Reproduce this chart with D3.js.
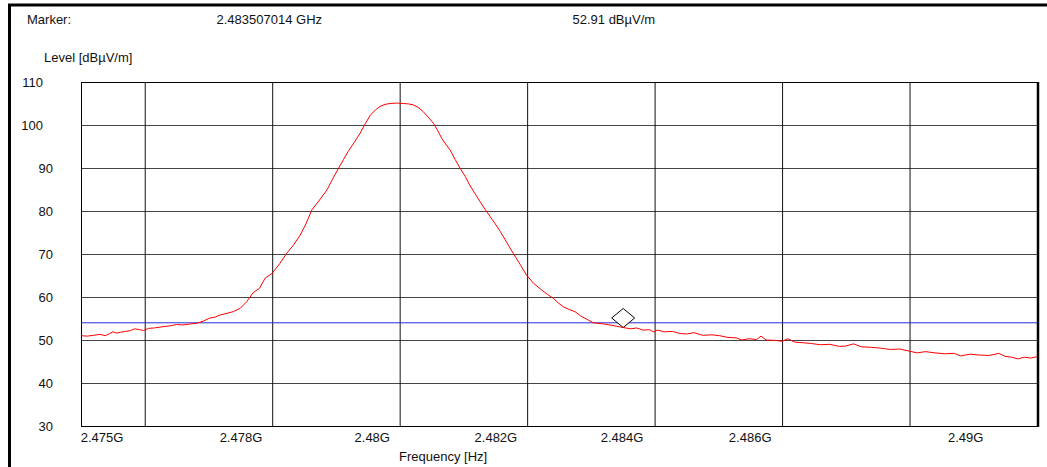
<!DOCTYPE html>
<html>
<head>
<meta charset="utf-8">
<script src="https://cdn.jsdelivr.net/npm/d3@7"></script>
<style>
    html, body { margin: 0; padding: 0; background: #fff; }
    svg { display: block; font-family: "Liberation Sans", Arial, sans-serif; }
</style>
</head>
<body>
<div id="chart"></div>
<script>
// Measured trace (frequency in GHz, level in dBuV/m)
const freqGHz = [
    2.47500, 2.47510, 2.47520, 2.47530, 2.47538, 2.47545, 2.47550, 2.47556, 2.47562, 2.47570,
    2.47578, 2.47584, 2.47592, 2.47598, 2.47606, 2.47615, 2.47629, 2.47640, 2.47650, 2.47660,
    2.47670, 2.47682, 2.47692, 2.47702, 2.47710, 2.47718, 2.47729, 2.47739, 2.47750, 2.47760,
    2.47770, 2.47780, 2.47789, 2.47800, 2.47812, 2.47823, 2.47833, 2.47844, 2.47853, 2.47862,
    2.47874, 2.47886, 2.47895, 2.47904, 2.47912, 2.47919, 2.47929, 2.47938, 2.47946, 2.47954,
    2.47962, 2.47969, 2.47977, 2.47985, 2.47995, 2.48006, 2.48014, 2.48021, 2.48029, 2.48037,
    2.48045, 2.48053, 2.48059, 2.48066, 2.48072, 2.48079, 2.48087, 2.48095, 2.48103, 2.48110,
    2.48118, 2.48126, 2.48134, 2.48142, 2.48150, 2.48158, 2.48168, 2.48178, 2.48189, 2.48199,
    2.48210, 2.48223, 2.48232, 2.48241, 2.48249, 2.48257, 2.48266, 2.48275, 2.48284, 2.48294,
    2.48304, 2.48317, 2.48330, 2.48340, 2.48351, 2.48362, 2.48372, 2.48382, 2.48392, 2.48398,
    2.48405, 2.48415, 2.48428, 2.48440, 2.48450, 2.48462, 2.48475, 2.48490, 2.48502, 2.48515,
    2.48528, 2.48537, 2.48548, 2.48560, 2.48567, 2.48575, 2.48590, 2.48600, 2.48609, 2.48620,
    2.48630, 2.48645, 2.48660, 2.48675, 2.48690, 2.48700, 2.48712, 2.48725, 2.48740, 2.48755,
    2.48770, 2.48785, 2.48800, 2.48812, 2.48825, 2.48840, 2.48855, 2.48870, 2.48880, 2.48895,
    2.48910, 2.48925, 2.48940, 2.48950, 2.48960, 2.48970, 2.48980, 2.48990, 2.49000
];
const levelDb = [
    51.0, 50.9, 51.1, 51.3, 51.0, 51.5, 51.9, 51.6, 51.8, 52.0,
    52.2, 52.6, 52.4, 52.2, 52.7, 52.8, 53.1, 53.3, 53.6, 53.5,
    53.7, 53.9, 54.4, 55.1, 55.3, 55.8, 56.2, 56.6, 57.4, 58.9,
    61.0, 62.0, 64.4, 65.5, 67.8, 70.2, 72.0, 74.4, 77.0, 80.2,
    82.5, 84.9, 87.5, 89.9, 92.0, 93.8, 96.0, 98.1, 100.3, 102.3,
    103.5, 104.3, 104.8, 105.0, 105.1, 105.0, 104.9, 104.7, 104.1, 103.1,
    101.8, 100.4, 98.9, 96.9, 95.6, 94.2, 92.0, 89.9, 88.0, 86.0,
    84.1, 82.2, 80.4, 78.7, 77.0, 75.2, 72.7, 70.2, 67.6, 65.1,
    63.2, 61.6, 60.6, 59.7, 58.6, 57.7, 57.1, 56.6, 55.6, 54.8,
    54.0, 53.8, 53.5, 53.2, 52.9, 52.6, 52.8, 52.3, 52.4, 51.9,
    52.3, 51.9, 52.0, 51.5, 51.4, 51.7, 51.1, 51.2, 51.0, 50.6,
    50.5, 50.0, 50.3, 50.1, 50.9, 50.0, 49.9, 49.7, 50.3, 49.5,
    49.4, 49.2, 48.9, 49.0, 48.5, 48.6, 49.1, 48.4, 48.3, 48.1,
    47.8, 47.9, 47.4, 47.0, 47.3, 47.0, 46.8, 46.9, 46.3, 46.7,
    46.5, 46.4, 46.9, 46.2, 46.0, 45.6, 46.0, 45.8, 46.1
];

// Limit line and marker
const limitDb = 54;
const markerFreq = 2.483507014;
const markerLevel = 52.91;

// Axes
const xDomain = [2.475, 2.490];
const xGridFreq = [2.476, 2.478, 2.480, 2.482, 2.484, 2.486, 2.488];
const xTickLabels = ['2.475G', '2.478G', '2.48G', '2.482G', '2.484G', '2.486G', '2.49G'];
const xTickLabelFreq = [2.47533, 2.47751, 2.47957, 2.48151, 2.48349, 2.48550, 2.48888];
const yDomain = [30, 110];
const yTicks = [30, 40, 50, 60, 70, 80, 90, 100, 110];

function renderChart(containerId) {
    const W = 1047, H = 467;
    const plot = { left: 81, right: 1037, top: 82, bottom: 426 };

    const svg = d3.select(`#${containerId}`)
        .append('svg')
        .attr('width', W)
        .attr('height', H);

    svg.append('rect')
        .attr('width', W)
        .attr('height', H)
        .attr('fill', '#fff');

    // Outer frame (cropped on right and bottom)
    svg.append('line')
        .attr('x1', 9.5).attr('x2', 9.5)
        .attr('y1', 4).attr('y2', H)
        .attr('stroke', '#000').attr('stroke-width', 3);
    svg.append('line')
        .attr('x1', 8).attr('x2', W)
        .attr('y1', 5).attr('y2', 5)
        .attr('stroke', '#000').attr('stroke-width', 3);

    const xScale = d3.scaleLinear().domain(xDomain).range([plot.left, plot.right]);
    const yScale = d3.scaleLinear().domain(yDomain).range([plot.bottom, plot.top]);

    // Horizontal grid
    svg.append('g')
        .attr('transform', `translate(${plot.left}, 0)`)
        .call(d3.axisLeft(yScale)
            .tickValues(yTicks.slice(1, -1))
            .tickSize(-(plot.right - plot.left))
            .tickFormat(''))
        .call(g => g.select('.domain').remove())
        .selectAll('.tick line')
        .attr('stroke', '#444')
        .attr('stroke-width', 1);

    // Vertical grid
    svg.append('g')
        .attr('transform', `translate(0, ${plot.bottom})`)
        .call(d3.axisBottom(xScale)
            .tickValues(xGridFreq)
            .tickSize(-(plot.bottom - plot.top))
            .tickFormat(''))
        .call(g => g.select('.domain').remove())
        .selectAll('.tick line')
        .attr('stroke', '#111')
        .attr('stroke-width', 1);

    // Plot frame
    svg.append('rect')
        .attr('x', plot.left + 0.5)
        .attr('y', plot.top + 0.5)
        .attr('width', plot.right - plot.left)
        .attr('height', plot.bottom - plot.top)
        .attr('fill', 'none')
        .attr('stroke', '#000')
        .attr('stroke-width', 1);
    svg.append('line')
        .attr('x1', plot.right + 1).attr('x2', plot.right + 1)
        .attr('y1', plot.top).attr('y2', plot.bottom + 1)
        .attr('stroke', '#000').attr('stroke-width', 2.5);

    // Y labels
    svg.append('g')
        .selectAll('text')
        .data(yTicks)
        .enter()
        .append('text')
        .attr('x', d => d >= 100 ? 43 : 53)
        .attr('y', d => yScale(d))
        .attr('dy', '0.36em')
        .attr('text-anchor', 'end')
        .style('font-size', '13px')
        .attr('fill', '#111')
        .text(d => d);

    // X labels
    svg.append('g')
        .selectAll('text')
        .data(xTickLabels)
        .enter()
        .append('text')
        .attr('x', (d, i) => xScale(xTickLabelFreq[i]))
        .attr('y', 442)
        .attr('text-anchor', 'middle')
        .style('font-size', '13px')
        .attr('fill', '#111')
        .text(d => d);

    // Axis titles and marker header
    svg.append('text')
        .attr('x', 399).attr('y', 460.5)
        .style('font-size', '13px').attr('fill', '#111')
        .text('Frequency [Hz]');
    svg.append('text')
        .attr('x', 44).attr('y', 61.5)
        .style('font-size', '13px').attr('fill', '#111')
        .text('Level [dBµV/m]');
    svg.append('text')
        .attr('x', 27).attr('y', 24)
        .style('font-size', '13px').attr('fill', '#111')
        .text('Marker:');
    svg.append('text')
        .attr('x', 216.5).attr('y', 24)
        .style('font-size', '13px').attr('fill', '#111')
        .text(`${markerFreq} GHz`);
    svg.append('text')
        .attr('x', 572.5).attr('y', 24)
        .style('font-size', '13px').attr('fill', '#111')
        .text(`${markerLevel} dBµV/m`);

    // Limit line
    svg.append('line')
        .attr('x1', plot.left).attr('x2', plot.right)
        .attr('y1', yScale(limitDb)).attr('y2', yScale(limitDb))
        .attr('stroke', '#2b2bd6')
        .attr('stroke-width', 1);

    // Trace
    const data = freqGHz.map((f, i) => ({ f: f, v: levelDb[i] }));
    const line = d3.line()
        .x(d => xScale(d.f))
        .y(d => yScale(d.v));
    svg.append('path')
        .datum(data)
        .attr('fill', 'none')
        .attr('stroke', '#ff0000')
        .attr('stroke-width', 1)
        .attr('d', line);

    // Marker diamond, bottom vertex on the marker point
    const mx = xScale(markerFreq);
    const my = yScale(markerLevel);
    svg.append('path')
        .attr('d', `M${mx},${my} L${mx + 11.5},${my - 9.5} L${mx},${my - 19} L${mx - 11.5},${my - 9.5} Z`)
        .attr('fill', '#fff')
        .attr('stroke', '#000')
        .attr('stroke-width', 1);
}

renderChart('chart');
</script>
</body>
</html>
